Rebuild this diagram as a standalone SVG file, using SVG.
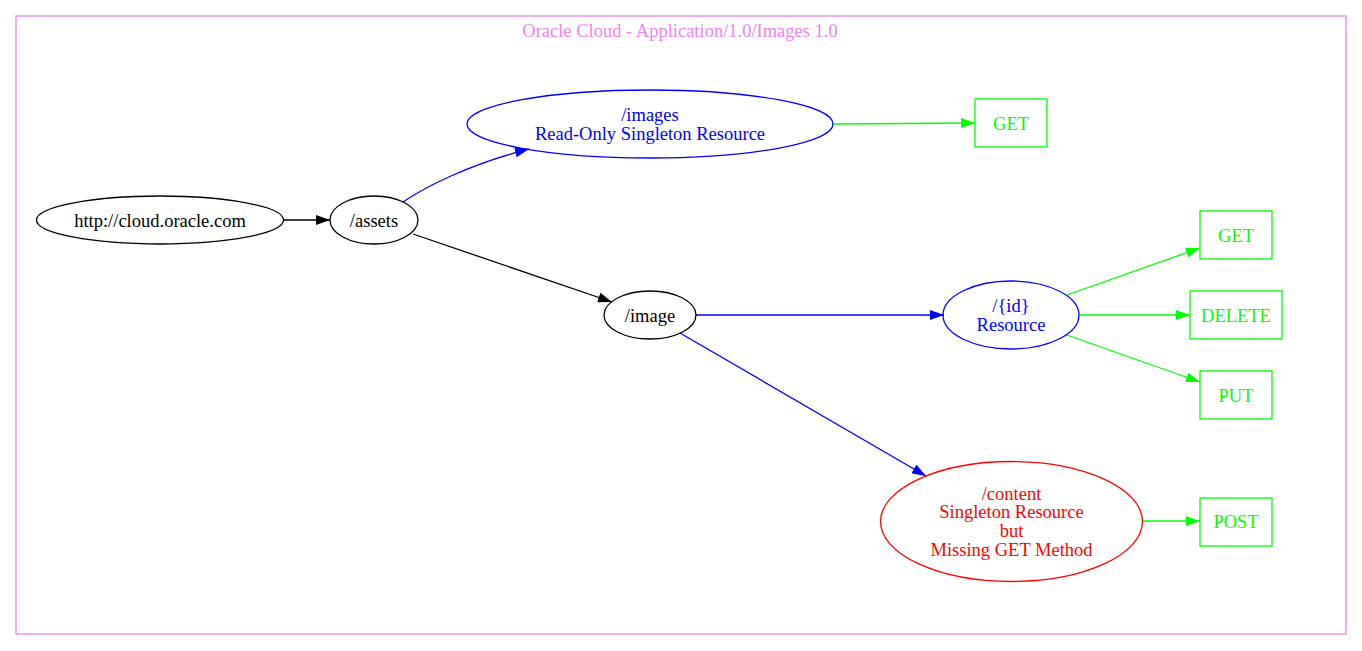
<svg xmlns="http://www.w3.org/2000/svg" width="1362" height="651" viewBox="0 0 1362 651">
<style>
text{font-family:"Liberation Serif","Times New Roman",serif;font-size:18.5px;text-anchor:middle}
.k{stroke:#000000;fill:none;stroke-width:1.3}
.b{stroke:#0000ff;fill:none;stroke-width:1.3}
.g{stroke:#00ff00;fill:none;stroke-width:1.3}
.r{stroke:#ff0000;fill:none;stroke-width:1.3}
.tk{fill:#000000}.tb{fill:#0000ff}.tg{fill:#00ff00}.tr{fill:#ff0000}
</style>
<defs>
<marker id="ak" markerUnits="userSpaceOnUse" markerWidth="14" markerHeight="10" refX="14" refY="5" orient="auto"><path d="M0,0 L14,5 L0,10 z" fill="#000000"/></marker>
<marker id="ab" markerUnits="userSpaceOnUse" markerWidth="14" markerHeight="10" refX="14" refY="5" orient="auto"><path d="M0,0 L14,5 L0,10 z" fill="#0000ff"/></marker>
<marker id="ag" markerUnits="userSpaceOnUse" markerWidth="14" markerHeight="10" refX="14" refY="5" orient="auto"><path d="M0,0 L14,5 L0,10 z" fill="#00ff00"/></marker>
</defs>
<rect width="1362" height="651" fill="#ffffff"/>
<g id="cluster">
<rect x="16" y="16" width="1330" height="618" fill="none" stroke="#ee82ee" stroke-width="1.3"/>
<text x="680" y="37" style="fill:#ee82ee">Oracle Cloud - Application/1.0/Images 1.0</text>
</g>
<g id="edges">
<path class="k" d="M283,220 L330,220" marker-end="url(#ak)"/>
<path class="b" d="M403,202 C425,187 470,164 529,149" marker-end="url(#ab)"/>
<path class="k" d="M413,234 L612,302" marker-end="url(#ak)"/>
<path class="g" d="M833,124 L975,123" marker-end="url(#ag)"/>
<path class="b" d="M696,315 L944,315" marker-end="url(#ab)"/>
<path class="b" d="M680,333 L926,476" marker-end="url(#ab)"/>
<path class="g" d="M1067,295 L1200,248" marker-end="url(#ag)"/>
<path class="g" d="M1080,315 L1190,315" marker-end="url(#ag)"/>
<path class="g" d="M1067,335 L1200,382" marker-end="url(#ag)"/>
<path class="g" d="M1142,521 L1200,521" marker-end="url(#ag)"/>
</g>
<g id="node_root">
<ellipse class="k" cx="160" cy="220" rx="123.5" ry="24"/>
<text class="tk" x="160" y="226.5">http://cloud.oracle.com</text>
</g>
<g id="node_assets">
<ellipse class="k" cx="374" cy="220" rx="44" ry="24"/>
<text class="tk" x="374" y="226.5">/assets</text>
</g>
<g id="node_images">
<ellipse class="b" cx="650" cy="124" rx="183" ry="34"/>
<text class="tb" x="650" y="121">/images</text>
<text class="tb" x="650" y="140">Read-Only Singleton Resource</text>
</g>
<g id="node_images_get">
<rect class="g" x="975" y="99" width="72" height="48"/>
<text class="tg" x="1011" y="130">GET</text>
</g>
<g id="node_image">
<ellipse class="k" cx="650" cy="315" rx="46" ry="24"/>
<text class="tk" x="650" y="321.5">/image</text>
</g>
<g id="node_id">
<ellipse class="b" cx="1011" cy="315" rx="68" ry="34"/>
<text class="tb" x="1011" y="311.5">/{id}</text>
<text class="tb" x="1011" y="330.5">Resource</text>
</g>
<g id="node_id_get">
<rect class="g" x="1200" y="211" width="72" height="48"/>
<text class="tg" x="1236" y="241.5">GET</text>
</g>
<g id="node_id_delete">
<rect class="g" x="1190" y="291" width="92" height="48"/>
<text class="tg" x="1236" y="321.5">DELETE</text>
</g>
<g id="node_id_put">
<rect class="g" x="1200" y="371" width="72" height="48"/>
<text class="tg" x="1236" y="401.5">PUT</text>
</g>
<g id="node_content">
<ellipse class="r" cx="1011.5" cy="521.5" rx="131" ry="60"/>
<text class="tr" x="1011.5" y="499.5">/content</text>
<text class="tr" x="1011.5" y="518">Singleton Resource</text>
<text class="tr" x="1011.5" y="537">but</text>
<text class="tr" x="1011.5" y="556">Missing GET Method</text>
</g>
<g id="node_content_post">
<rect class="g" x="1200" y="498" width="72" height="48"/>
<text class="tg" x="1236" y="528">POST</text>
</g>
</svg>
